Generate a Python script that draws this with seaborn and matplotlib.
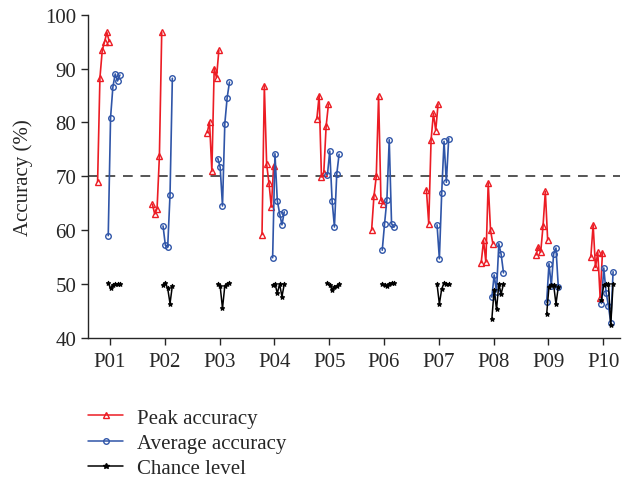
import seaborn as sns
import matplotlib.pyplot as plt
from matplotlib.lines import Line2D
import pandas as pd
import numpy as np

# ---------------------------------------------------------------------------
# data
# ---------------------------------------------------------------------------
participants = ['P01', 'P02', 'P03', 'P04', 'P05', 'P06', 'P07', 'P08', 'P09', 'P10']

peak = [
    [69.0, 88.3, 93.4, 95.0, 96.7, 95.0],
    [64.8, 63.0, 64.0, 73.7, 96.7],
    [78.1, 80.1, 70.9, 90.0, 88.3, 93.4],
    [59.2, 86.8, 72.2, 68.7, 64.3, 72.0],
    [80.6, 85.0, 69.9, 70.7, 79.3, 83.4],
    [60.0, 66.3, 70.0, 85.0, 65.7, 64.9],
    [67.5, 61.2, 76.7, 81.7, 78.5, 83.4],
    [54.0, 58.1, 54.1, 68.8, 60.0, 57.5],
    [55.4, 56.9, 55.9, 60.7, 67.2, 58.2],
    [55.0, 61.0, 53.1, 55.9, 47.5, 55.8],
]

average = [
    [59.0, 80.9, 86.6, 89.0, 87.7, 88.8],
    [60.8, 57.2, 56.9, 66.6, 88.2],
    [73.3, 71.7, 64.5, 79.8, 84.6, 87.5],
    [54.9, 74.2, 65.5, 63.1, 61.0, 63.4],
    [70.3, 74.7, 65.5, 60.6, 70.4, 74.1],
    [56.3, 61.2, 65.7, 76.8, 61.2, 60.6],
    [61.0, 54.7, 66.9, 76.5, 68.9, 77.0],
    [47.6, 51.7, 48.6, 57.5, 55.5, 52.1],
    [46.6, 53.8, 49.7, 55.6, 56.7, 49.5],
    [46.4, 53.0, 48.4, 46.0, 42.8, 52.3],
]

chance = [
    [50.2, 49.2, 49.9, 50.0, 50.0, 50.1],
    [49.9, 50.2, 49.2, 46.4, 49.7],
    [50.0, 49.6, 45.5, 49.7, 50.0, 50.2],
    [49.8, 50.1, 48.3, 50.0, 47.7, 50.0],
    [50.2, 49.9, 48.9, 49.5, 49.7, 50.0],
    [50.0, 49.8, 49.6, 50.1, 50.2, 50.2],
    [50.0, 46.3, 49.1, 50.2, 50.0, 50.0],
    [43.5, 49.0, 45.3, 50.0, 48.2, 50.0],
    [44.4, 49.5, 49.8, 49.9, 46.3, 49.5],
    [47.1, 49.9, 50.0, 50.0, 42.4, 50.1],
]

chance_threshold = 70


def to_long(values, start, step=0.0425):
    rows = []
    for i, sessions in enumerate(values):
        for k, v in enumerate(sessions):
            rows.append({'pid': i, 'x': i + start + k * step, 'acc': v})
    return pd.DataFrame(rows)


df_peak = to_long(peak, -0.225)
df_avg = to_long(average, -0.031)
df_chance = to_long(chance, -0.031)

# ---------------------------------------------------------------------------
# style
# ---------------------------------------------------------------------------
sns.set_style('ticks')
plt.rcParams['font.family'] = ['Liberation Serif', 'DejaVu Serif']
plt.rcParams['font.size'] = 15

red = '#ec1c24'
blue = '#2f55a8'
black = '#000000'

fig = plt.figure(figsize=(6.22, 4.81), dpi=100)
ax = fig.add_axes([0.1415, 0.2952, 0.8555, 0.6722])

ax.axhline(chance_threshold, color='#555555', linestyle=(0, (5, 4)), linewidth=1.4, zorder=1)

sns.lineplot(data=df_peak, x='x', y='acc', units='pid', estimator=None, color=red,
             marker='^', markersize=5, markerfacecolor='none', markeredgecolor=red,
             markeredgewidth=1.0, linewidth=1.2, ax=ax, legend=False)
sns.lineplot(data=df_avg, x='x', y='acc', units='pid', estimator=None, color=blue,
             marker='o', markersize=4, markerfacecolor='none', markeredgecolor=blue,
             markeredgewidth=1.0, linewidth=1.2, ax=ax, legend=False)
sns.lineplot(data=df_chance, x='x', y='acc', units='pid', estimator=None, color=black,
             marker='*', markersize=3.5, markeredgecolor=black,
             linewidth=1.1, ax=ax, legend=False)

ax.set_xlim(-0.4, 9.31)
ax.set_ylim(40, 100)
ax.set_xticks(range(len(participants)))
ax.set_xticklabels(participants)
ax.set_yticks([40, 50, 60, 70, 80, 90, 100])
ax.set_xlabel('')
ax.set_ylabel('Accuracy (%)', fontsize=15, labelpad=9)
ax.tick_params(axis='both', labelsize=15, length=5, width=1.0, direction='out')
ax.tick_params(axis='x', pad=5)
sns.despine(ax=ax)
for sp in ['left', 'bottom']:
    ax.spines[sp].set_linewidth(1.0)

handles = [
    Line2D([], [], color=red, marker='^', markersize=5, markerfacecolor='none', linewidth=1.1),
    Line2D([], [], color=blue, marker='o', markersize=4, markerfacecolor='none', linewidth=1.1),
    Line2D([], [], color=black, marker='*', markersize=4, linewidth=1.1),
]
fig.legend(handles, ['Peak accuracy', 'Average accuracy', 'Chance level'],
           loc='upper left', bbox_to_anchor=(0.128, 0.167), frameon=False,
           fontsize=15, handlelength=1.7, labelspacing=0.27, handletextpad=0.67,
           borderaxespad=0)

fig.savefig('out.png', dpi=100)
